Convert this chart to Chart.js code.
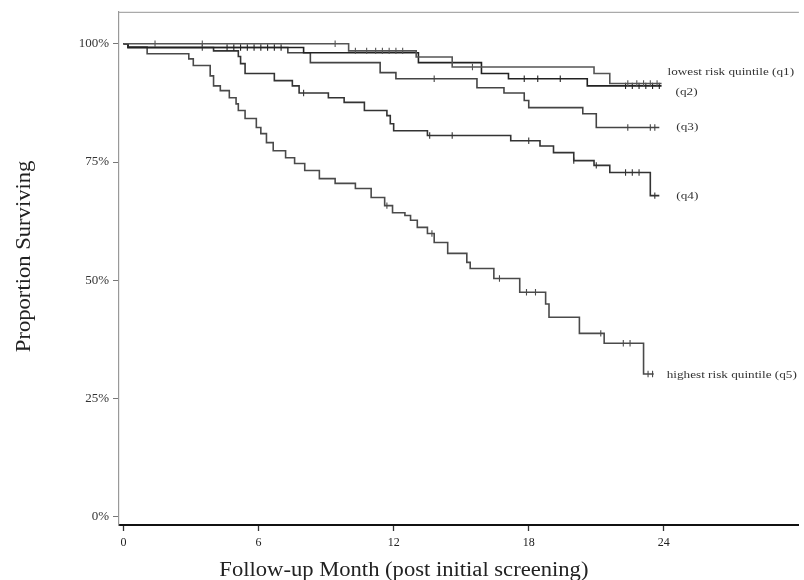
<!DOCTYPE html>
<html>
<head>
<meta charset="utf-8">
<script src="https://cdn.jsdelivr.net/npm/chart.js@4.4.1/dist/chart.umd.min.js"></script>
<style>
  html, body { margin: 0; padding: 0; background: #fff; }
  #wrap { width: 804px; height: 580px; }
</style>
</head>
<body>
<div id="wrap"><canvas id="km"></canvas></div>
<script>
// Axis ticks
const monthTicks = [0, 6, 12, 18, 24];
const survivalTicks = [0, 25, 50, 75, 100];

// Curve labels, lowest to highest risk
const quintileLabels = [
  'lowest risk quintile (q1)',
  '(q2)',
  '(q3)',
  '(q4)',
  'highest risk quintile (q5)'
];

// Kaplan-Meier estimates: event months and survival (%) after each event;
// the last entry is the end of follow-up.
const q1Months   = [0, 10.0, 13.0, 14.6, 20.9, 21.6, 23.9];
const q1Survival = [100, 98.5, 97.2, 95.1, 93.7, 91.6, 91.6];
const q1Censored = [1.4, 3.5, 9.4, 10.3, 10.8, 11.2, 11.5, 11.8, 12.1, 12.4, 15.5, 22.4, 22.8, 23.1, 23.4, 23.7];

const q2Months   = [0, 0.2, 8.0, 13.1, 15.9, 17.1, 20.6, 23.9];
const q2Survival = [100, 99.2, 98.1, 96.0, 93.7, 92.6, 91.1, 91.1];
const q2Censored = [4.6, 4.9, 5.2, 5.5, 5.8, 6.1, 6.4, 6.7, 7.0, 17.8, 18.4, 19.4, 22.3, 22.6, 22.9, 23.2, 23.5, 23.8];

const q3Months   = [0, 0.2, 7.3, 8.3, 11.4, 12.1, 15.7, 16.9, 17.8, 18.0, 20.4, 21.0, 23.8];
const q3Survival = [100, 99.2, 98.1, 96.0, 93.9, 92.6, 90.7, 89.6, 88.0, 86.5, 85.2, 82.3, 82.3];
const q3Censored = [3.5, 13.8, 22.4, 23.4, 23.6];

const q4Months   = [0, 0.2, 4.0, 5.1, 5.2, 5.4, 6.7, 7.5, 7.8, 9.1, 9.8, 10.7, 11.7, 11.85, 12.0, 13.5, 17.2, 18.5, 19.1, 20.0, 20.9, 21.6, 23.4, 23.8];
const q4Survival = [100, 99.2, 98.5, 97.3, 95.8, 93.7, 92.2, 91.1, 89.6, 88.6, 87.6, 85.9, 84.8, 83.1, 81.6, 80.6, 79.5, 78.4, 77.0, 75.3, 74.3, 72.8, 67.9, 67.9];
const q4Censored = [8.0, 13.6, 14.6, 18.0, 20.0, 21.0, 22.3, 22.6, 22.9, 23.6];

const q5Months   = [0, 0.2, 1.05, 2.9, 3.1, 3.85, 4.0, 4.3, 4.7, 5.0, 5.1, 5.4, 5.9, 6.1, 6.35, 6.65, 7.2, 7.6, 8.05, 8.7, 9.4, 10.3, 11.0, 11.6, 11.95, 12.5, 12.75, 13.05, 13.5, 13.8, 14.4, 15.25, 15.4, 16.45, 17.6, 18.75, 18.9, 20.25, 21.35, 23.1, 23.55];
const q5Survival = [100, 99.3, 97.9, 96.8, 95.4, 93.2, 91.1, 90.1, 88.6, 87.3, 85.9, 84.2, 82.3, 81.0, 79.1, 77.4, 75.9, 74.7, 73.2, 71.5, 70.5, 69.4, 67.5, 65.8, 64.3, 63.7, 62.7, 61.2, 59.9, 58.0, 55.7, 53.8, 52.5, 50.4, 47.5, 45.0, 42.2, 38.8, 36.7, 30.2, 30.2];
const q5Censored = [11.7, 13.7, 16.7, 17.9, 18.3, 21.2, 22.2, 22.5, 23.3, 23.5];

// ---- styling ----
const SERIF = "'Liberation Serif', 'Times New Roman', serif";
const lineColors = ['#555', '#222', '#444', '#333', '#4a4a4a'];
// label placement relative to the end of each curve (pixels)
const labelShift = [
  { dx: 6,  dy: -11 },
  { dx: 14, dy: 6 },
  { dx: 17, dy: 0 },
  { dx: 17, dy: 0 },
  { dx: 13, dy: 1 }
];

const curves = [
  [q1Months, q1Survival, q1Censored],
  [q2Months, q2Survival, q2Censored],
  [q3Months, q3Survival, q3Censored],
  [q4Months, q4Survival, q4Censored],
  [q5Months, q5Survival, q5Censored]
];

function survivalAt(months, surv, t) {
  let v = surv[0];
  for (let i = 0; i < months.length; i++) {
    if (months[i] <= t) v = surv[i]; else break;
  }
  return v;
}

const datasets = [];
curves.forEach(([months, surv, cens], i) => {
  datasets.push({
    type: 'line',
    label: quintileLabels[i],
    data: months.map((m, k) => ({ x: m, y: surv[k] })),
    stepped: 'before',
    borderColor: lineColors[i],
    borderWidth: 1.6,
    pointRadius: 0,
    fill: false,
    tension: 0,
    isCurve: true,
    curveIndex: i
  });
  datasets.push({
    type: 'scatter',
    label: quintileLabels[i] + ' censored',
    data: cens.map(t => ({ x: t, y: survivalAt(months, surv, t) })),
    pointStyle: 'line',
    rotation: 90,
    pointRadius: 3.2,
    borderColor: lineColors[i],
    borderWidth: 1.1,
    showLine: false
  });
});

function stretchedText(ctx, text, x, y, sx, align) {
  ctx.save();
  ctx.translate(x, y);
  ctx.scale(sx, 1);
  ctx.textAlign = align;
  ctx.fillText(text, 0, 0);
  ctx.restore();
}

const decorations = {
  id: 'kmDecorations',
  afterDraw(chart) {
    const { ctx, chartArea } = chart;
    ctx.save();
    // top frame line
    ctx.strokeStyle = '#aaa';
    ctx.lineWidth = 1.2;
    ctx.beginPath();
    ctx.moveTo(chartArea.left, chartArea.top + 0.5);
    ctx.lineTo(chartArea.right, chartArea.top + 0.5);
    ctx.stroke();

    // curve end labels
    ctx.fillStyle = '#333';
    ctx.font = '11px ' + SERIF;
    ctx.textBaseline = 'middle';
    chart.data.datasets.forEach((ds, di) => {
      if (!ds.isCurve) return;
      const meta = chart.getDatasetMeta(di);
      const last = meta.data[meta.data.length - 1];
      const s = labelShift[ds.curveIndex];
      stretchedText(ctx, ds.label, last.x + s.dx, last.y + s.dy, 1.2, 'left');
    });

    // axis titles
    ctx.fillStyle = '#222';
    ctx.font = '20px ' + SERIF;
    stretchedText(ctx, 'Follow-up Month (post initial screening)',
      chartArea.left + (chartArea.right - chartArea.left) * 0.419, chart.height - 9, 1.13, 'center');

    ctx.save();
    ctx.translate(25, (chartArea.top + chartArea.bottom) / 2 - 12);
    ctx.rotate(-Math.PI / 2);
    stretchedText(ctx, 'Proportion Surviving', 0, 0, 1.13, 'center');
    ctx.restore();
    ctx.restore();
  }
};

new Chart(document.getElementById('km'), {
  type: 'line',
  data: { datasets },
  options: {
    responsive: true,
    maintainAspectRatio: false,
    animation: false,
    layout: { padding: { top: 11, right: 0, left: 0, bottom: 0 } },
    plugins: { legend: { display: false }, tooltip: { enabled: false } },
    scales: {
      x: {
        type: 'linear',
        min: -0.2,
        max: 30,
        afterBuildTicks: s => { s.ticks = monthTicks.map(v => ({ value: v })); },
        afterFit: s => { s.height = 55; },
        ticks: { font: { family: SERIF, size: 12 }, color: '#222', padding: 5, maxRotation: 0 },
        grid: { drawOnChartArea: false, drawTicks: true, tickLength: 6, tickWidth: 1.3, tickColor: '#333' },
        border: { display: true, color: '#111', width: 2 }
      },
      y: {
        type: 'linear',
        min: -1.7,
        max: 106.75,
        afterBuildTicks: s => { s.ticks = survivalTicks.map(v => ({ value: v })); },
        afterFit: s => { s.width = 119; },
        ticks: { font: { family: SERIF, size: 13 }, color: '#333', padding: 4, callback: v => v + '%' },
        grid: { drawOnChartArea: false, drawTicks: true, tickLength: 6, tickWidth: 1, tickColor: '#777' },
        border: { display: true, color: '#999', width: 1.2 }
      }
    }
  },
  plugins: [decorations]
});
</script>
</body>
</html>
